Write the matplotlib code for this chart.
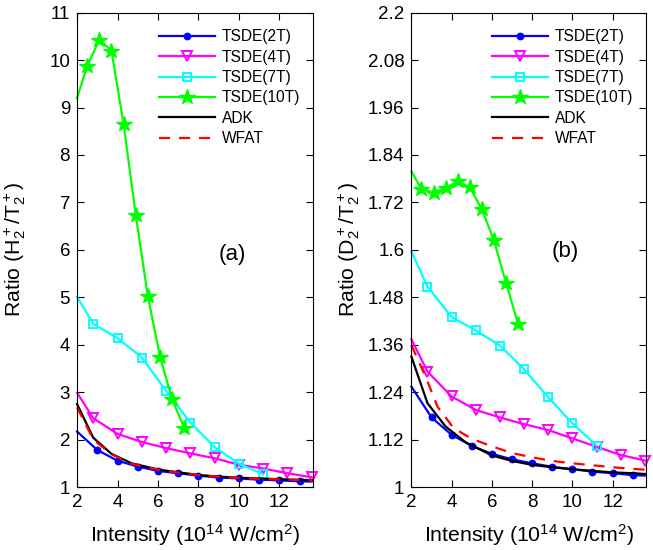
import numpy as np
import matplotlib
matplotlib.use("Agg")
import matplotlib.pyplot as plt
from matplotlib.ticker import FixedLocator, FormatStrFormatter

plt.rcParams["font.family"] = ["Liberation Sans", "DejaVu Sans"]
plt.rcParams["mathtext.default"] = "regular"

# -----------------------------
# DATA  (intensity in 1e14 W/cm^2)
# -----------------------------
x_2T = [2, 3, 4, 5, 6, 7, 8, 9, 10, 11, 12, 13, 13.6]
x_4T = [2, 2.8, 4.0, 5.2, 6.4, 7.6, 8.8, 10.0, 11.2, 12.4, 13.6]
x_7T = [2, 2.8, 4.0, 5.2, 6.4, 7.6, 8.8, 10.0, 11.2]
x_10T = [2, 2.5, 3.1, 3.7, 4.3, 4.9, 5.5, 6.1, 6.7, 7.3]
x_adk = [2, 2.8, 3.7, 4.7, 6, 7, 8, 9, 10, 11, 12, 13, 13.6]
x_wfat_b = [2, 2.7, 3.3, 4.1, 5, 6, 7, 8, 9, 10, 11, 12, 13, 13.6]

# panel (a): H2+/T2+
h_2T = [2.17, 1.78, 1.555, 1.43, 1.34, 1.29, 1.24, 1.20, 1.18, 1.155, 1.14, 1.12, 1.115]
h_4T = [2.99, 2.45, 2.12, 1.95, 1.82, 1.71, 1.605, 1.47, 1.39, 1.29, 1.205]
h_7T = [5.01, 4.44, 4.14, 3.73, 3.03, 2.36, 1.84, 1.49, 1.27]
h_10T = [9.2, 9.87, 10.43, 10.2, 8.65, 6.74, 5.02, 3.75, 2.85, 2.24]
h_adk = [2.75, 2.04, 1.70, 1.50, 1.37, 1.31, 1.255, 1.22, 1.195, 1.18, 1.165, 1.15, 1.145]
h_wfat = [2.68, 2.0, 1.69, 1.49, 1.365, 1.305, 1.25, 1.215, 1.19, 1.175, 1.16, 1.148, 1.142]

# panel (b): D2+/T2+
d_2T = [1.254, 1.176, 1.132, 1.104, 1.084, 1.070, 1.060, 1.051, 1.045, 1.039, 1.035, 1.030, 1.029]
d_4T = [1.374, 1.292, 1.229, 1.195, 1.176, 1.159, 1.144, 1.123, 1.102, 1.081, 1.067]
d_7T = [1.596, 1.507, 1.430, 1.396, 1.358, 1.298, 1.227, 1.161, 1.105]
d_10T = [1.798, 1.754, 1.745, 1.756, 1.773, 1.758, 1.703, 1.624, 1.517, 1.413]
d_adk = [1.330, 1.212, 1.153, 1.113, 1.080, 1.066, 1.056, 1.050, 1.045, 1.041, 1.037, 1.035, 1.033]
d_wfat = [1.359, 1.28, 1.203, 1.149, 1.122, 1.103, 1.086, 1.075, 1.066, 1.060, 1.055, 1.050, 1.046, 1.044]

yticks_a = [1, 2, 3, 4, 5, 6, 7, 8, 9, 10, 11]
yticks_b = [1, 1.12, 1.24, 1.36, 1.48, 1.6, 1.72, 1.84, 1.96, 2.08, 2.2]
xticks = [2, 4, 6, 8, 10, 12]


def draw_panel(ax, ys, adk_x, adk, wfat_x, wfat, yticks, ylabel, ypad, tag, tag_y):
    y2, y4, y7, y10 = ys
    lw = 1.6
    ax.plot(x_2T, y2, color="blue", lw=lw, marker="o", ms=4.6,
            markevery=list(range(1, len(x_2T) - 1)), label="TSDE(2T)", clip_on=False)
    ax.plot(x_4T, y4, color="magenta", lw=lw, marker="v", ms=7.5, mfc="none", mew=1.4,
            markevery=list(range(1, len(x_4T))), label="TSDE(4T)", clip_on=False)
    ax.plot(x_7T, y7, color="cyan", lw=lw, marker="s", ms=6.2, mfc="none", mew=1.4,
            markevery=list(range(1, len(x_7T))), label="TSDE(7T)", clip_on=False)
    ax.plot(x_10T, y10, color="#00ff00", lw=lw, marker="*", ms=11.5,
            markevery=list(range(1, len(x_10T))), label="TSDE(10T)", clip_on=False)
    ax.plot(adk_x, adk, color="black", lw=lw, label="ADK", clip_on=False)
    ax.plot(wfat_x, wfat, color="red", lw=lw, ls=(0, (5, 4)), label="WFAT", clip_on=False)

    ax.set_xlim(2, 13.65)
    ax.set_ylim(yticks[0], yticks[-1])
    ax.xaxis.set_major_locator(FixedLocator(xticks))
    ax.yaxis.set_major_locator(FixedLocator(yticks))
    ax.yaxis.set_major_formatter(FormatStrFormatter("%g"))
    ax.tick_params(direction="in", top=True, right=True, length=5, width=0.8,
                   labelsize=13.5, pad=5)
    for s in ax.spines.values():
        s.set_linewidth(0.8)
    ax.set_xlabel("Intensity (10$^{14}$ W/cm$^{2}$)", fontsize=15.3, labelpad=8)
    ax.set_ylabel(ylabel, fontsize=15.3, labelpad=ypad)
    ax.text(9.65, tag_y, tag, fontsize=16, ha="center", va="center")
    ax.legend(loc="upper right", bbox_to_anchor=(0.985, 0.985), frameon=False,
              fontsize=11.2, handlelength=3.6, handletextpad=0.45, labelspacing=0.35,
              borderaxespad=0.2)


fig = plt.figure(figsize=(6.53, 5.5), dpi=100)
ax_a = fig.add_axes([0.118, 0.1145, 0.361, 0.8625])
ax_b = fig.add_axes([0.630, 0.1145, 0.359, 0.8625])

draw_panel(ax_a, (h_2T, h_4T, h_7T, h_10T), x_adk, h_adk, x_adk, h_wfat,
           yticks_a, "Ratio (H$_2^+$/T$_2^+$)", 15, "(a)", 5.9)
draw_panel(ax_b, (d_2T, d_4T, d_7T, d_10T), x_adk, d_adk, x_wfat_b, d_wfat,
           yticks_b, "Ratio (D$_2^+$/T$_2^+$)", 4, "(b)", 1.596)

fig.savefig("out.png", dpi=100)
